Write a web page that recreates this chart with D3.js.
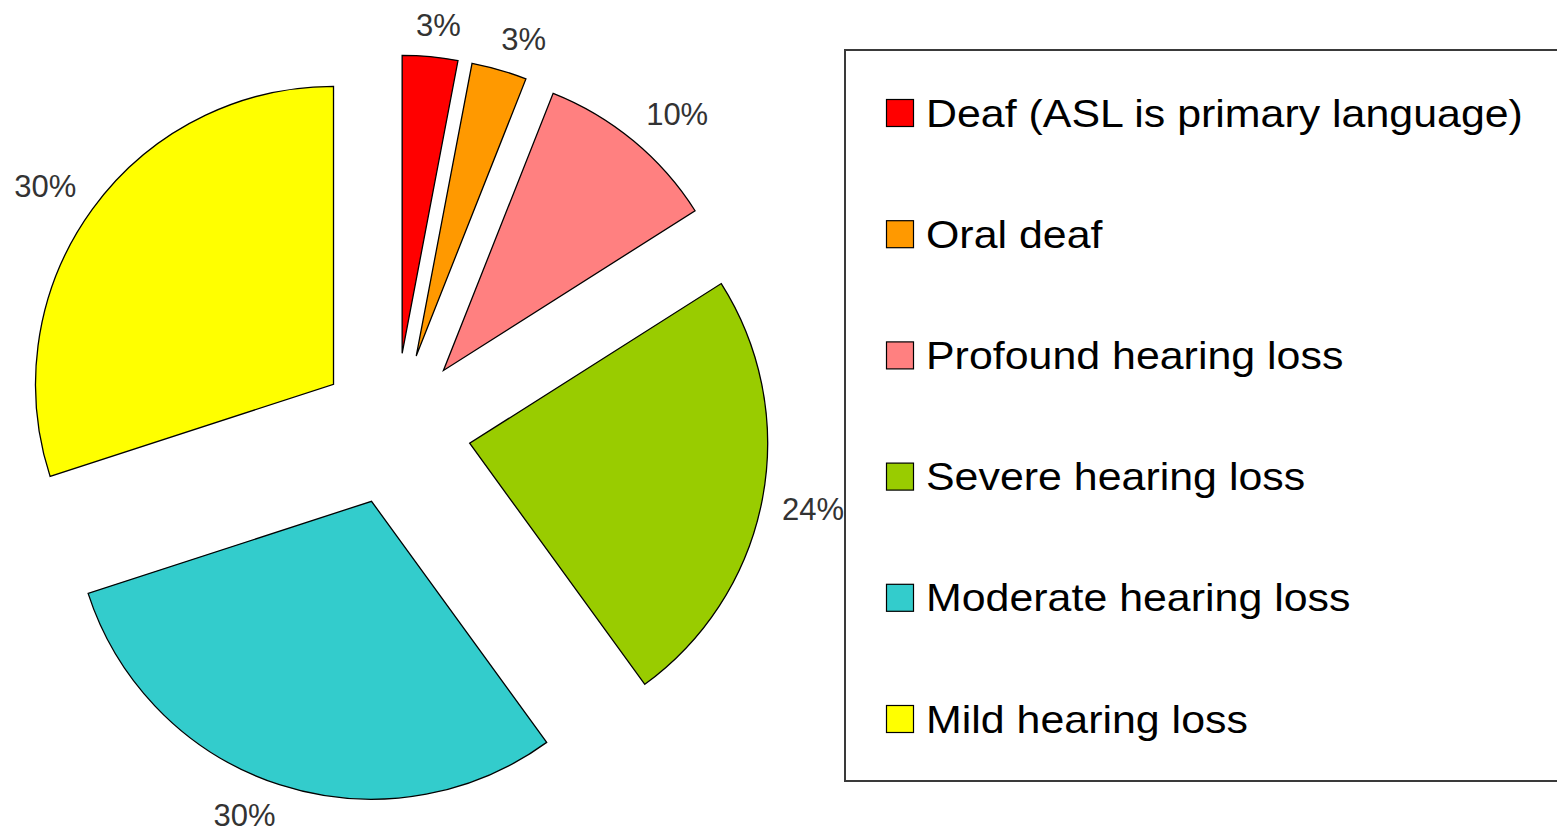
<!DOCTYPE html>
<html>
<head>
<meta charset="utf-8">
<script src="https://cdn.jsdelivr.net/npm/d3@7"></script>
<style>
  body { margin: 0; background: #fff; }
  text { font-family: Arial, "Liberation Sans", sans-serif; }
</style>
</head>
<body>
<svg id="chart" width="1557" height="830"></svg>
<script>
// data (clockwise from 12 o'clock)
const categories = [
    "Deaf (ASL is primary language)", "Oral deaf", "Profound hearing loss",
    "Severe hearing loss", "Moderate hearing loss", "Mild hearing loss"
];
const shares = [3, 3, 10, 24, 30, 30];
const pctLabels = ["3%", "3%", "10%", "24%", "30%", "30%"];
const sliceColors = ["#ff0000", "#ff9900", "#ff8080", "#99cc00", "#33cccc", "#ffff00"];

const W = 1557, H = 830;
const cx = 395, cy = 429;     // pie centre
const radius = 298;
const explode = 76;           // every slice pulled out by the same amount
const labelGap = 20;          // gap between arc and label anchor point

const svg = d3.select("#chart").attr("width", W).attr("height", H);

const rows = categories.map((c, i) => ({ name: c, value: shares[i], label: pctLabels[i], color: sliceColors[i] }));

const pie = d3.pie().sort(null).value(d => d.value);
const arc = d3.arc().innerRadius(0).outerRadius(radius);
const arcs = pie(rows);

const midDir = a => {
    const m = (a.startAngle + a.endAngle) / 2;
    return [Math.sin(m), -Math.cos(m)];
};
const clamp = v => Math.max(-1, Math.min(1, v));

const pieG = svg.append("g").attr("transform", `translate(${cx},${cy})`);

pieG.selectAll("path.slice")
    .data(arcs).enter()
  .append("path")
    .classed("slice", true)
    .attr("d", arc)
    .attr("transform", d => {
        const [ux, uy] = midDir(d);
        return `translate(${ux * explode},${uy * explode})`;
    })
    .attr("fill", d => d.data.color)
    .attr("stroke", "#000")
    .attr("stroke-width", 1.3)
    .attr("stroke-linejoin", "miter");

//percent labels: anchor point just outside the arc, box hangs away from the pie
const pctFont = 31;
const pctText = pieG.selectAll("text.pct")
    .data(arcs).enter()
  .append("text")
    .classed("pct", true)
    .attr("text-anchor", "middle")
    .attr("dy", "0.35em")
    .style("font-size", pctFont + "px")
    .attr("fill", "#333")
    .text(d => d.data.label);

pctText.each(function(d) {
    const w = this.getComputedTextLength();
    const h = pctFont * 0.72;
    const [ux, uy] = midDir(d);
    const dist = explode + radius + labelGap;
    const px = ux * dist, py = uy * dist;
    d3.select(this)
        .attr("x", px + clamp(ux * 3) * w / 2)
        .attr("y", py + clamp(uy * 3) * h / 2);
});

//legend
const legend = { x: 845, y: 50, h: 731, firstY: 113, step: 121.2, box: 27, textX: 926, font: 39 };

svg.append("rect")
    .attr("x", legend.x)
    .attr("y", legend.y)
    .attr("width", W - legend.x + 20)
    .attr("height", legend.h)
    .attr("fill", "none")
    .attr("stroke", "#3a3a3a")
    .attr("stroke-width", 2);

const items = svg.selectAll("g.item")
    .data(rows).enter()
  .append("g")
    .classed("item", true)
    .attr("transform", (d, i) => `translate(0,${legend.firstY + i * legend.step})`);

items.append("rect")
    .attr("x", 886.5)
    .attr("y", -legend.box / 2)
    .attr("width", legend.box)
    .attr("height", legend.box)
    .attr("fill", d => d.color)
    .attr("stroke", "#000")
    .attr("stroke-width", 1.2);

items.append("text")
    .attr("x", legend.textX)
    .attr("dy", "0.35em")
    .style("font-size", legend.font + "px")
    .attr("fill", "#000")
    .text(d => d.name)
    .each(function() {
        //the source renders its legend font a little wider than Arial
        const len = this.getComputedTextLength() * 1.1;
        d3.select(this).attr("textLength", len).attr("lengthAdjust", "spacingAndGlyphs");
    });
</script>
</body>
</html>
